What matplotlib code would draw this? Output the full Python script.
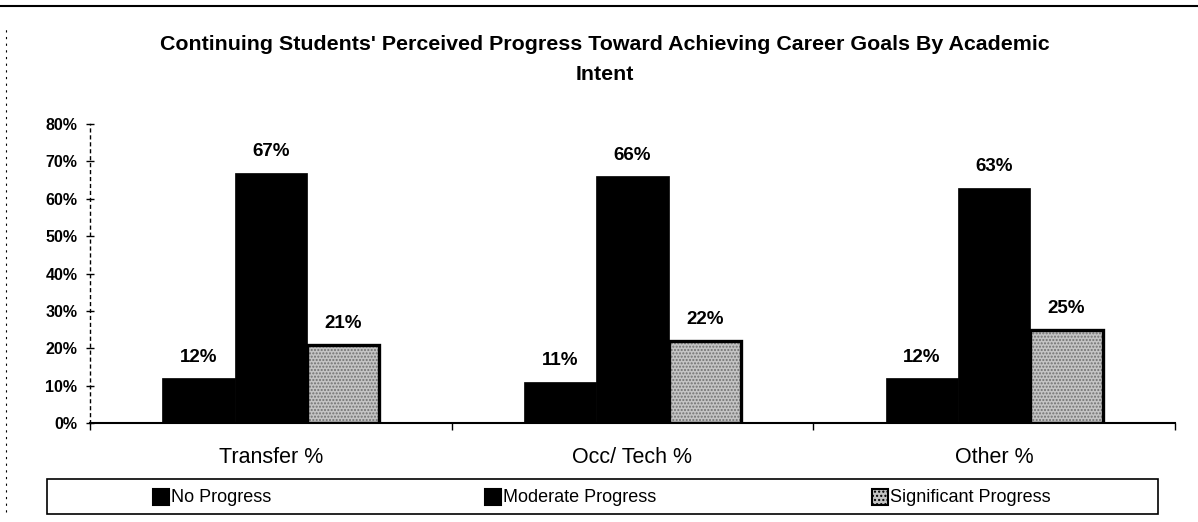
import matplotlib.pyplot as plt
from matplotlib.lines import Line2D
from matplotlib.patches import Rectangle
import numpy as np

plt.rcParams['font.family'] = ['Liberation Sans', 'DejaVu Sans']

# data
categories = ['Transfer %', 'Occ/ Tech %', 'Other %']
no_progress = [0.12, 0.11, 0.12]
moderate_progress = [0.67, 0.66, 0.63]
significant_progress = [0.21, 0.22, 0.25]
series_names = ['No Progress', 'Moderate Progress', 'Significant Progress']

W, H = 1198, 522
fig = plt.figure(figsize=(W / 100, H / 100), dpi=100)
ax = fig.add_axes([90 / W, 1 - 423 / H, 1085 / W, 299 / H])

x = np.arange(len(categories))
w = 0.2
gray = '#c4c4c4'

# plain black bars
ax.bar(x - w, no_progress, w, color='black', edgecolor='black', linewidth=0.5)
ax.bar(x, moderate_progress, w, color='black', edgecolor='black', linewidth=0.5)
# stippled gray bars with a heavy black border
ax.bar(x + w, significant_progress, w, color=gray, edgecolor='#707070',
       hatch='.....', linewidth=0)
ax.bar(x + w, significant_progress, w, fill=False, edgecolor='black', linewidth=2.4)

# value labels
for vals, off in [(no_progress, -w), (moderate_progress, 0), (significant_progress, w)]:
    for xi, v in zip(x, vals):
        ax.annotate(f'{round(v * 100):.0f}%', (xi + off, v), xytext=(0, 9),
                    textcoords='offset points', ha='center', va='bottom',
                    fontsize=13.5, fontweight='bold')

ax.set_xlim(-0.5, 2.5)
ax.set_ylim(0, 0.8)
ax.set_yticks(np.arange(0, 0.81, 0.1))
ax.set_yticklabels([f'{t}%' for t in range(0, 81, 10)], fontsize=11.5, fontweight='bold')
ax.tick_params(axis='y', direction='inout', length=6, width=1, pad=6)

# category labels centred, ticks at category boundaries
ax.set_xticks(x)
ax.set_xticklabels(categories, fontsize=15.5)
ax.tick_params(axis='x', length=0, pad=17)
ax.set_xticks([-0.5, 0.5, 1.5, 2.5], minor=True)
ax.tick_params(axis='x', which='minor', direction='out', length=5, width=1)

for s in ['top', 'right']:
    ax.spines[s].set_visible(False)
ax.spines['left'].set_linestyle((0, (2, 3)))
ax.spines['left'].set_linewidth(1)
ax.spines['bottom'].set_linewidth(1.5)

# title, two centred lines
fig.text(605 / W, 1 - 44 / H, "Continuing Students' Perceived Progress Toward Achieving Career Goals By Academic",
         ha='center', va='center', fontsize=15.4, fontweight='bold')
fig.text(605 / W, 1 - 74 / H, 'Intent', ha='center', va='center', fontsize=15.4, fontweight='bold')

# legend strip along the bottom, entries placed as in the original
fig.add_artist(Rectangle((47 / W, 1 - 514 / H), 1111 / W, 35 / H, transform=fig.transFigure,
                         fill=False, edgecolor='black', linewidth=1.2))
legend_x = [153, 485, 872]
legend_faces = ['black', 'black', gray]
for lx, name, face in zip(legend_x, series_names, legend_faces):
    fig.add_artist(Rectangle((lx / W, 1 - 505 / H), 16 / W, 16 / H, transform=fig.transFigure,
                             facecolor=face, edgecolor='black', linewidth=1.5,
                             hatch='....' if face == gray else None))
    fig.text((lx + 18) / W, 1 - 497 / H, name, ha='left', va='center', fontsize=13)

# scanned page frame lines
fig.add_artist(Line2D([0, 1], [0.988, 0.988], color='black', linewidth=1.5))
fig.add_artist(Line2D([0.005, 0.005], [0.02, 0.95], color='black', linewidth=0.8,
                      linestyle=(0, (2, 4))))

fig.savefig('out.png', dpi=100)
